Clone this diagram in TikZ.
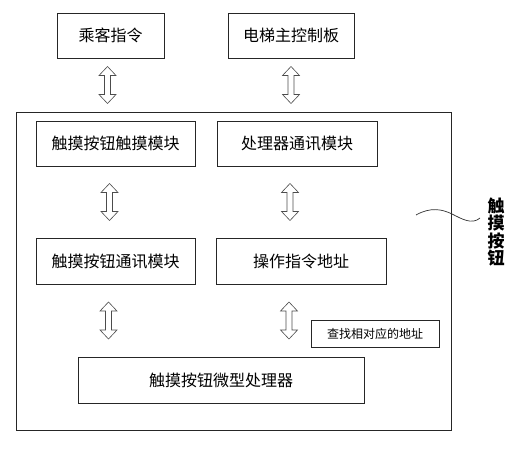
\documentclass[tikz,border=0pt]{standalone}
\usepackage{fontspec}
\newfontfamily\cjk{Noto Sans CJK SC}
\usetikzlibrary{calc,positioning}
\tikzset{
  blk/.style={draw=black!85,line width=0.7pt,inner sep=0pt,
    font=\cjk\fontsize{16}{16}\selectfont},
  dblarr/.pic={
    \draw[black!70,line width=0.6pt,line join=miter]
      (0,-18.5) -- (8.5,-9.5) -- (3,-9.5) -- (3,9.5) -- (8.5,9.5) -- (0,18.5)
      -- (-8.5,9.5) -- (-3,9.5) -- (-3,-9.5) -- (-8.5,-9.5) -- cycle;
  }
}

\begin{document}
\begin{tikzpicture}[x=1pt,y=-1pt]
  \useasboundingbox (0,0) rectangle (519,450);

  % outer units
  \node[blk,minimum width=107pt,minimum height=45pt] (cmd) at (110.5,35.5) {乘客指令};
  \node[blk,minimum width=126pt,minimum height=45pt] (mainbd) at (291,35.5) {电梯主控制板};

  % touch button panel
  \node[blk,minimum width=435pt,minimum height=318pt] (panel) at (233.5,271) {};
  \node[blk,minimum width=159pt,minimum height=45pt] (touch) at (115.5,143.5) {触摸按钮触摸模块};
  \node[blk,minimum width=160pt,minimum height=45pt] (proc) at (297,143.5) {处理器通讯模块};
  \node[blk,minimum width=159pt,minimum height=46pt] (comm) at (115.5,261) {触摸按钮通讯模块};
  \node[blk,minimum width=170pt,minimum height=46pt] (addr) at (301,261) {操作指令地址};
  \node[blk,minimum width=128pt,minimum height=27pt,font=\cjk\fontsize{12}{12}\selectfont] (find) at (375,333.5) {查找相对应的地址};
  \node[blk,minimum width=286pt,minimum height=46pt] (mcu) at (221,380) {触摸按钮微型处理器};

  % links
  \pic[xshift=-3pt] at ($(cmd.south)!0.5!(cmd.south |- panel.north)$) {dblarr};
  \pic at ($(mainbd.south)!0.5!(mainbd.south |- panel.north)$) {dblarr};
  \pic[xshift=-6pt] at ($(touch.south)!0.5!(comm.north)$) {dblarr};
  \pic[xshift=-7pt] at ($(proc.south)!0.5!(proc.south |- addr.north)$) {dblarr};
  \pic[xshift=-7pt] at ($(comm.south)!0.5!(comm.south |- mcu.north)$) {dblarr};
  \pic[xshift=-12pt] at ($(addr.south)!0.5!(addr.south |- mcu.north)$) {dblarr};

  % label
  \node[font=\cjk\bfseries\fontsize{17}{17.5}\selectfont,align=center,inner sep=0pt] (lbl) at (496,232) {触\\摸\\按\\钮};
  \coordinate (tail) at (480,218);
  \draw[black!80,line width=0.7pt] (416,215) .. controls (430,207) and (442,209) .. (452,214)
    .. controls (462,219) and (472,225) .. (tail);
\end{tikzpicture}
\end{document}
